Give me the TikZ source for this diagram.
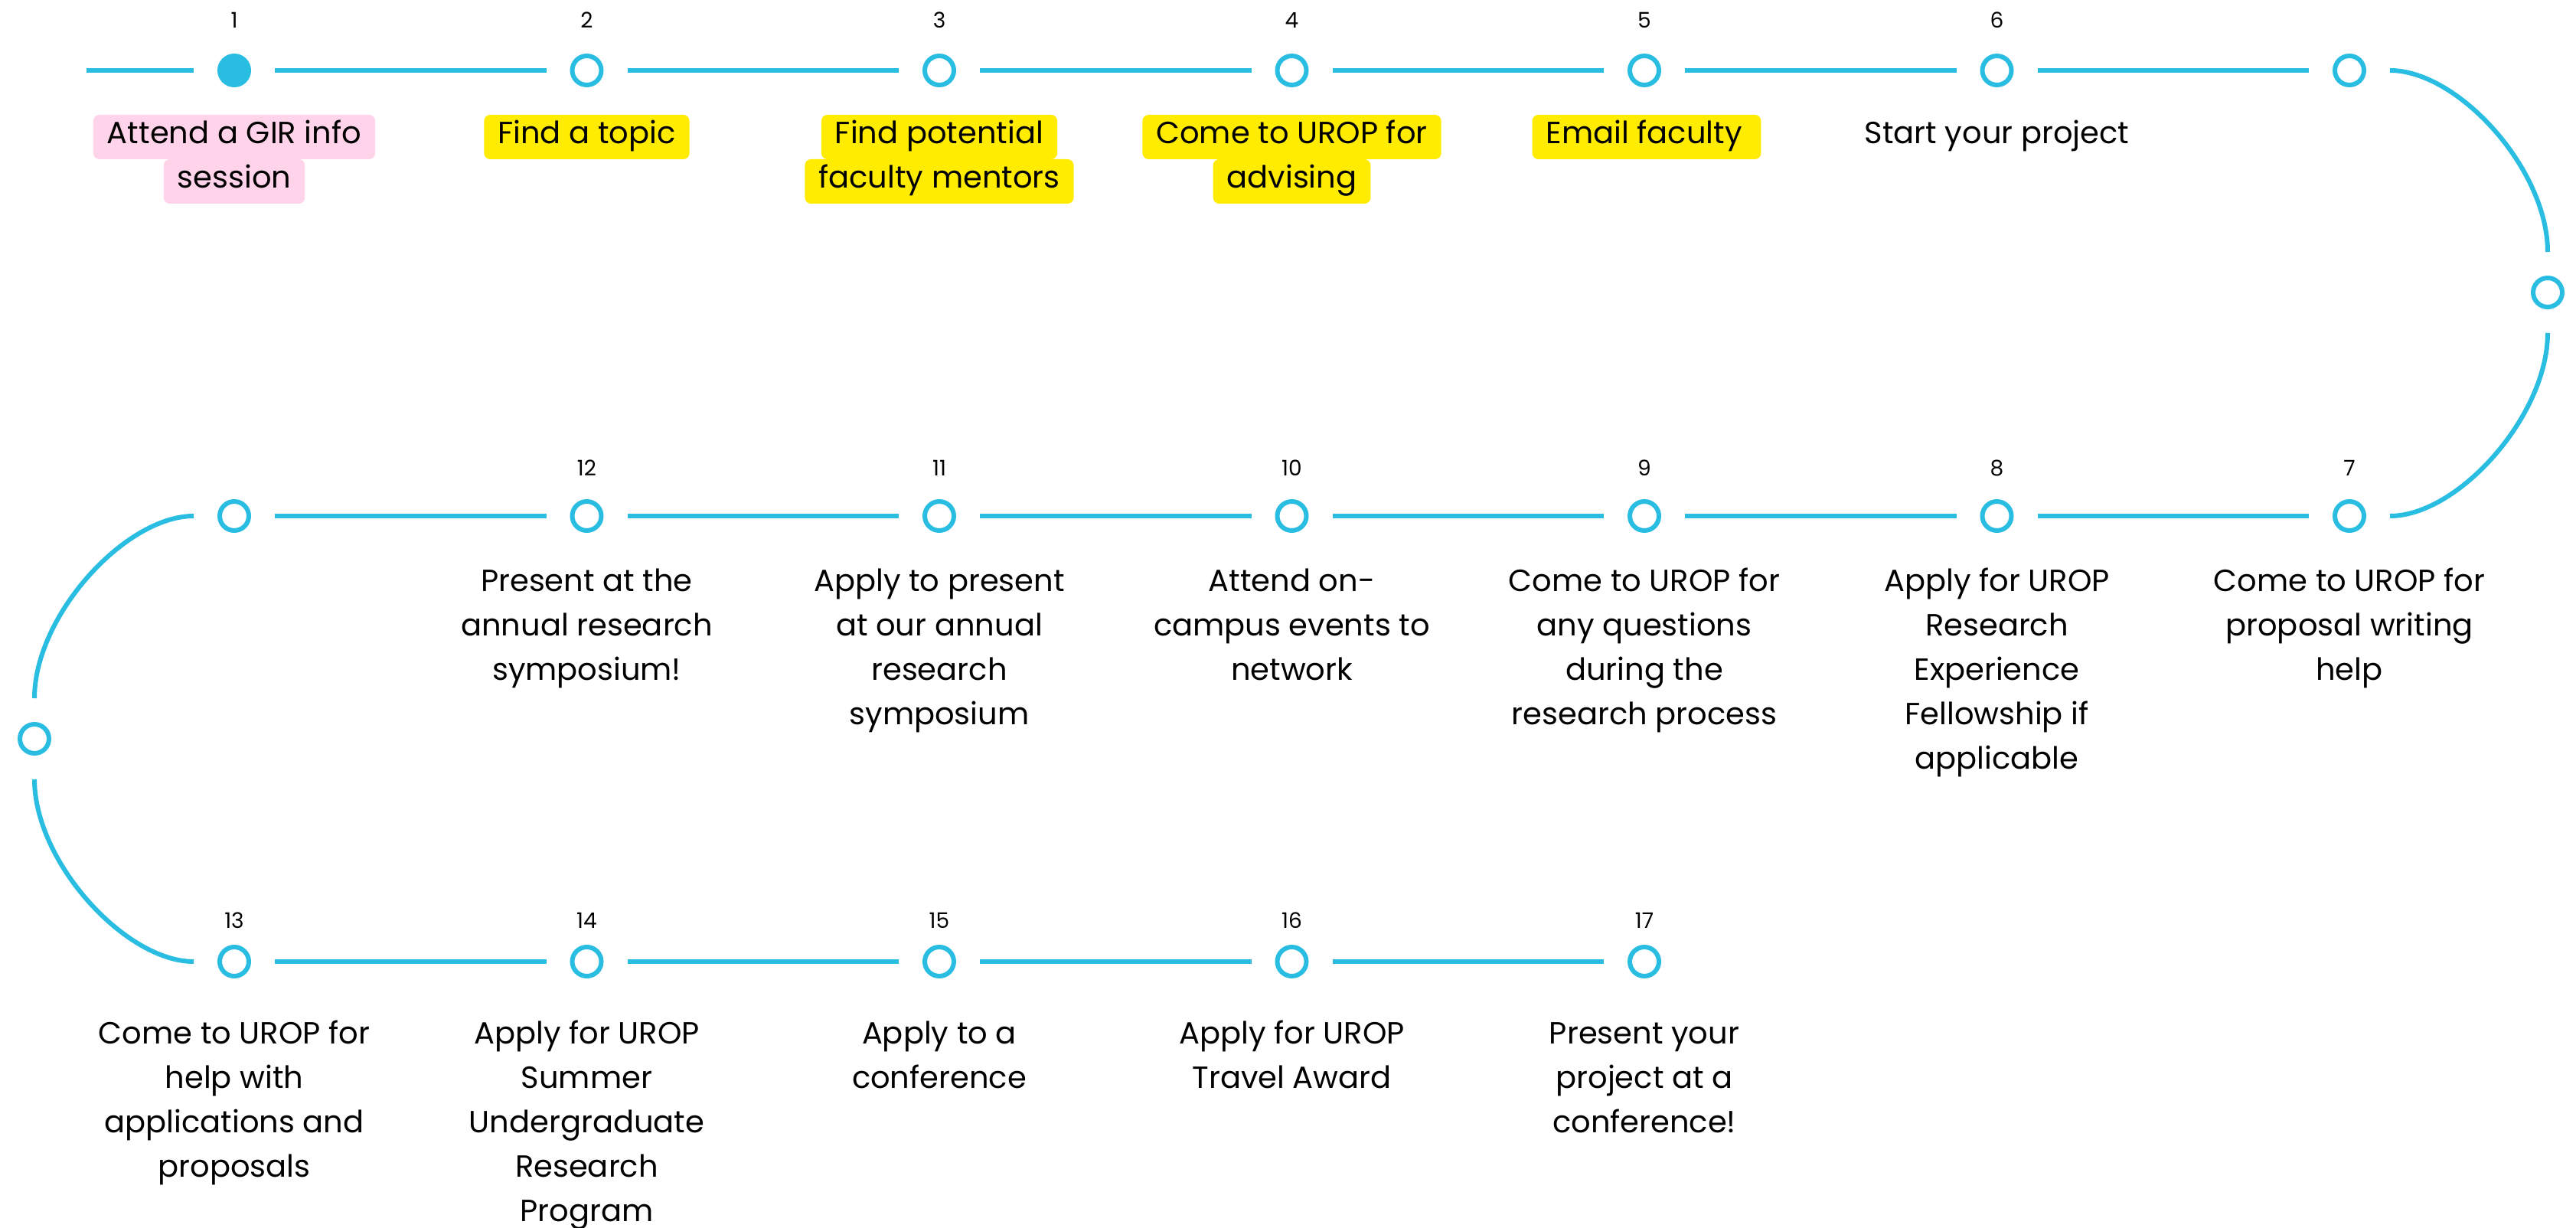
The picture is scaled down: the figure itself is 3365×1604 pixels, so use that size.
\documentclass[tikz,border=0pt]{standalone}
\usepackage{fontspec}
\setmainfont{Poppins}
\definecolor{lineblue}{RGB}{41,189,226}
\definecolor{hlpink}{RGB}{255,211,233}
\definecolor{hlyellow}{RGB}{255,236,0}
\newcommand\stacklines[1]{\vtop{\baselineskip=14.5pt\lineskiplimit=-\maxdimen\halign{\hfil##\hfil\cr#1\crcr}}}
\tikzset{
 stepdot/.style={circle, draw=lineblue, line width=1.5pt, minimum size=9.5pt, inner sep=0pt, outer sep=0pt, fill=white},
 stepdotfilled/.style={stepdot, fill=lineblue},
 conn/.style={draw=lineblue, line width=1.5pt, shorten >=8.5pt, shorten <=8.5pt},
 num/.style={font=\fontsize{7}{8}\selectfont, anchor=base, inner sep=0pt},
 desc/.style={font=\fontsize{10}{14.5}\selectfont, anchor=base, inner sep=0pt},
 hl/.style={desc, inner xsep=4.5pt, inner ysep=0pt, text height=9.5pt, text depth=5pt, rounded corners=2pt},
 pinkhl/.style={hl, fill=hlpink},
 yellowhl/.style={hl, fill=hlyellow},
}
\begin{document}
\begin{tikzpicture}[x=0.25pt, y=-0.25pt]
\useasboundingbox[fill=white] (0,0) rectangle (3365,1604);
% row 1
\coordinate (start) at (113,92);
\node[stepdotfilled] (a1) at (306,92) {};
\node[stepdot] (a2) at (766.5,92) {};
\node[stepdot] (a3) at (1227,92) {};
\node[stepdot] (a4) at (1687.5,92) {};
\node[stepdot] (a5) at (2148,92) {};
\node[stepdot] (a6) at (2608.5,92) {};
\node[stepdot] (a7) at (3069,92) {};
\node[stepdot] (rside) at (3328,382) {};
% row 2
\node[stepdot] (b1) at (306,674) {};
\node[stepdot] (b2) at (766.5,674) {};
\node[stepdot] (b3) at (1227,674) {};
\node[stepdot] (b4) at (1687.5,674) {};
\node[stepdot] (b5) at (2148,674) {};
\node[stepdot] (b6) at (2608.5,674) {};
\node[stepdot] (b7) at (3069,674) {};
\node[stepdot] (lside) at (45,965) {};
% row 3
\node[stepdot] (c1) at (306,1256) {};
\node[stepdot] (c2) at (766.5,1256) {};
\node[stepdot] (c3) at (1227,1256) {};
\node[stepdot] (c4) at (1687.5,1256) {};
\node[stepdot] (c5) at (2148,1256) {};
% connectors
\draw[conn, shorten <=0pt] (start) -- (a1);
\draw[conn] (a1) -- (a2);
\draw[conn] (a2) -- (a3);
\draw[conn] (a3) -- (a4);
\draw[conn] (a4) -- (a5);
\draw[conn] (a5) -- (a6);
\draw[conn] (a6) -- (a7);
\draw[conn] (a7) .. controls +(142,0) and +(0,-161) .. (rside);
\draw[conn] (rside) .. controls +(0,161) and +(142,0) .. (b7);
\draw[conn] (b7) -- (b6);
\draw[conn] (b6) -- (b5);
\draw[conn] (b5) -- (b4);
\draw[conn] (b4) -- (b3);
\draw[conn] (b3) -- (b2);
\draw[conn] (b2) -- (b1);
\draw[conn] (b1) .. controls +(-142,0) and +(0,-161) .. (lside);
\draw[conn] (lside) .. controls +(0,161) and +(-142,0) .. (c1);
\draw[conn] (c1) -- (c2);
\draw[conn] (c2) -- (c3);
\draw[conn] (c3) -- (c4);
\draw[conn] (c4) -- (c5);
% numbers
\node[num] (na1) at (306,37) {1};
\node[num] (na2) at (766.5,37) {2};
\node[num] (na3) at (1227,37) {3};
\node[num] (na4) at (1687.5,37) {4};
\node[num] (na5) at (2148,37) {5};
\node[num] (na6) at (2608.5,37) {6};
\node[num] (nb2) at (766.5,622) {12};
\node[num] (nb3) at (1227,622) {11};
\node[num] (nb4) at (1687.5,622) {10};
\node[num] (nb5) at (2148,622) {9};
\node[num] (nb6) at (2608.5,622) {8};
\node[num] (nb7) at (3069,622) {7};
\node[num] (nc1) at (306,1212) {13};
\node[num] (nc2) at (766.5,1212) {14};
\node[num] (nc3) at (1227,1212) {15};
\node[num] (nc4) at (1687.5,1212) {16};
\node[num] (nc5) at (2148,1212) {17};
% row 1 labels
\node[pinkhl] (la1x) at (306,188) {Attend a GIR info};
\node[pinkhl] (la1y) at (306,246) {session};
\node[yellowhl] (la2x) at (766.5,188) {Find a topic};
\node[yellowhl] (la3x) at (1227,188) {Find potential};
\node[yellowhl] (la3y) at (1227,246) {faculty mentors};
\node[yellowhl] (la4x) at (1687.5,188) {Come to UROP for};
\node[yellowhl] (la4y) at (1687.5,246) {advising};
\node[yellowhl] (la5x) at (2151,188) {Email faculty\,};
\node[desc] (la6x) at (2608.5,188) {Start your project};
% row 2 labels
\node[desc] (lb2) at (766.5,773) {\stacklines{Present at the\cr annual research\cr symposium!}};
\node[desc] (lb3) at (1227,773) {\stacklines{Apply to present\cr at our annual\cr research\cr symposium}};
\node[desc] (lb4) at (1687.5,773) {\stacklines{Attend on-\cr campus events to\cr network}};
\node[desc] (lb5) at (2148,773) {\stacklines{Come to UROP for\cr any questions\cr during the\cr research process}};
\node[desc] (lb6) at (2608.5,773) {\stacklines{Apply for UROP\cr Research\cr Experience\cr Fellowship if\cr applicable}};
\node[desc] (lb7) at (3069,773) {\stacklines{Come to UROP for\cr proposal writing\cr help}};
% row 3 labels
\node[desc] (lc1) at (306,1363) {\stacklines{Come to UROP for\cr help with\cr applications and\cr proposals}};
\node[desc] (lc2) at (766.5,1363) {\stacklines{Apply for UROP\cr Summer\cr Undergraduate\cr Research\cr Program}};
\node[desc] (lc3) at (1227,1363) {\stacklines{Apply to a\cr conference}};
\node[desc] (lc4) at (1687.5,1363) {\stacklines{Apply for UROP\cr Travel Award}};
\node[desc] (lc5) at (2148,1363) {\stacklines{Present your\cr project at a\cr conference!}};
\end{tikzpicture}
\end{document}
